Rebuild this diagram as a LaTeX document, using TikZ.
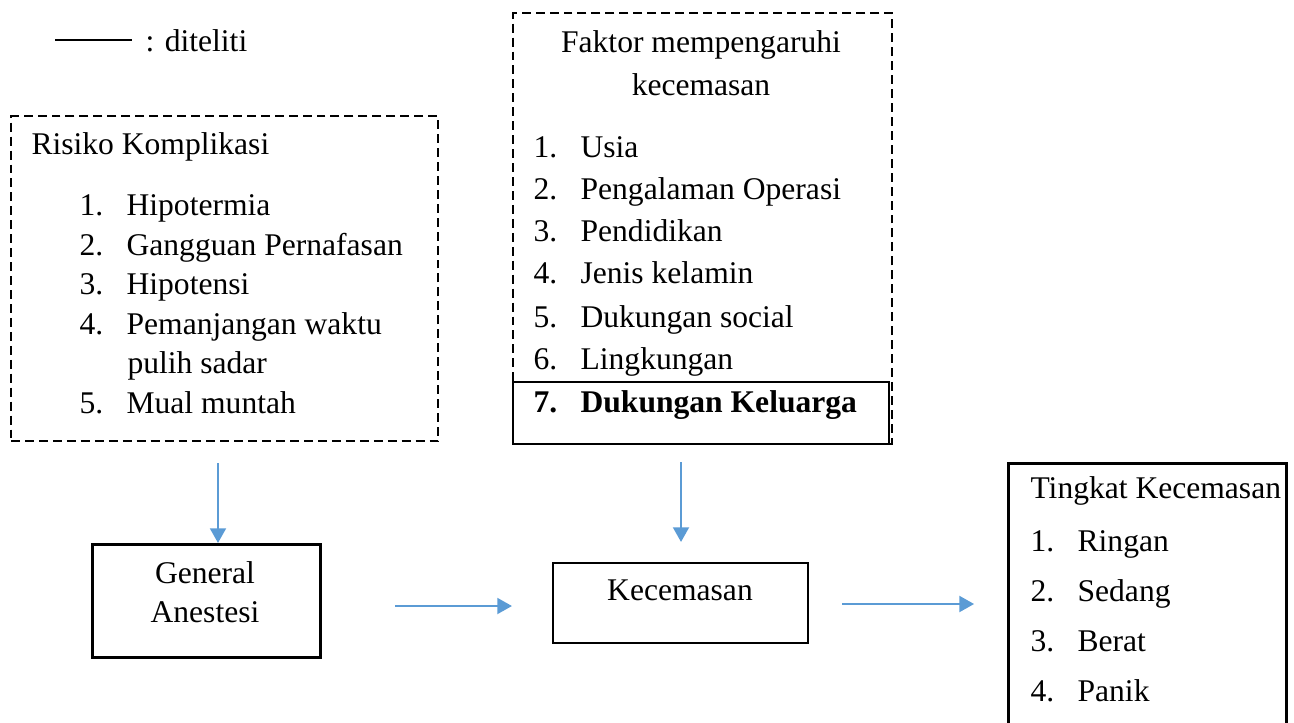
\documentclass[tikz,border=0pt]{standalone}
\usepackage{fontspec}
\setmainfont{Liberation Serif}
\usepackage{tikz}
\usetikzlibrary{arrows.meta,positioning,calc}
\definecolor{flowblue}{HTML}{5B9BD5}
\newcommand{\pxu}{0.38pt}
\newcommand{\itm}[2]{\makebox[17.9pt][l]{#1}#2}
\tikzset{
  dashbox/.style={draw=black, dash pattern=on 3.4pt off 1.9pt, line width=0.9pt, anchor=north west, inner sep=0pt},
  solidbox/.style={draw=black, line width=1.1pt, anchor=north west, inner sep=0pt},
  thinbox/.style={draw=black, line width=0.75pt, anchor=north west, inner sep=0pt},
  txt/.style={anchor=base west, inner sep=0pt},
  ctxt/.style={anchor=base, inner sep=0pt},
  flow/.style={-{Triangle[length=5.6pt,width=6pt]}, line width=1pt, draw=flowblue, fill=flowblue}
}

\begin{document}
\begin{tikzpicture}[x=\pxu, y=-\pxu, font=\fontsize{12}{14.5}\selectfont]
  \clip (0,0) rectangle (1294,722);
  % legend
  \coordinate (legA) at (55,40);
  \coordinate (legB) at (132,40);
  \draw[line width=0.6pt] (legA) -- (legB);
  \node[txt] (legT) at (145,51) {: diteliti};
  % boxes
  \node[dashbox, minimum width=427*\pxu, minimum height=325*\pxu] (risk) at (10,115) {};
  \node[dashbox, minimum width=379*\pxu, minimum height=431*\pxu] (faktor) at (512,12) {};
  \node[thinbox, minimum width=376*\pxu, minimum height=62*\pxu] (kel) at (512,381) {};
  \node[solidbox, minimum width=228*\pxu, minimum height=113*\pxu] (ga) at (91,543) {};
  \node[thinbox, minimum width=255*\pxu, minimum height=80*\pxu] (kec) at (552,562) {};
  \node[solidbox, minimum width=278*\pxu, minimum height=290*\pxu] (tk) at (1007,462) {};
  % risiko komplikasi
  \node[txt] (riskT) at (31,154) {Risiko Komplikasi};
  \node[txt] (risk1) at (79,215) {\itm{1.}{Hipotermia}};
  \node[txt] (risk2) at (79,255) {\itm{2.}{Gangguan Pernafasan}};
  \node[txt] (risk3) at (79,294) {\itm{3.}{Hipotensi}};
  \node[txt] (risk4) at (79,334) {\itm{4.}{Pemanjangan waktu}};
  \node[txt] (risk4b) at (127,373) {pulih sadar};
  \node[txt] (risk5) at (79,413) {\itm{5.}{Mual muntah}};
  % faktor
  \node[ctxt] (faktorT) at (701,52) {Faktor mempengaruhi};
  \node[ctxt] (faktorT2) at (701,95) {kecemasan};
  \node[txt] (fak1) at (533,157) {\itm{1.}{Usia}};
  \node[txt] (fak2) at (533,199) {\itm{2.}{Pengalaman Operasi}};
  \node[txt] (fak3) at (533,241) {\itm{3.}{Pendidikan}};
  \node[txt] (fak4) at (533,283) {\itm{4.}{Jenis kelamin}};
  \node[txt] (fak5) at (533,327) {\itm{5.}{Dukungan social}};
  \node[txt] (fak6) at (533,369) {\itm{6.}{Lingkungan}};
  \node[txt] (fak7) at (533,412) {\bfseries\itm{7.}{Dukungan Keluarga}};
  % general anestesi, kecemasan
  \node[ctxt] (gaT) at (205,583) {General};
  \node[ctxt] (gaT2) at (205,622) {Anestesi};
  \node[ctxt] (kecT) at (680,600) {Kecemasan};
  % tingkat kecemasan
  \node[txt] (tkT) at (1030,498) {Tingkat Kecemasan};
  \node[txt] (tk1) at (1030,551) {\itm{1.}{Ringan}};
  \node[txt] (tk2) at (1030,601) {\itm{2.}{Sedang}};
  \node[txt] (tk3) at (1030,651) {\itm{3.}{Berat}};
  \node[txt] (tk4) at (1030,701) {\itm{4.}{Panik}};
  % arrows
  \coordinate (r1) at (218,463);
  \coordinate (f1) at (681,462);
  \coordinate (g1) at (395,606);
  \coordinate (k1) at (842,604);
  \draw[flow] (r1) -- (r1 |- ga.north);
  \draw[flow, shorten >=7.6pt] (f1) -- (f1 |- kec.north);
  \draw[flow, shorten >=15.2pt] (g1) -- (g1 -| kec.west);
  \draw[flow, shorten >=12.5pt] (k1) -- (k1 -| tk.west);
\end{tikzpicture}
\end{document}
